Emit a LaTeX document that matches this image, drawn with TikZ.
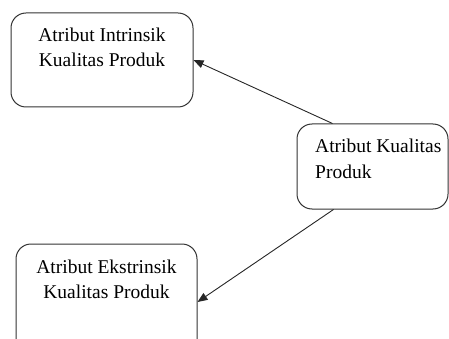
\documentclass[tikz,border=0pt]{standalone}
\usepackage{fontspec}
\setmainfont{Liberation Serif}
\usetikzlibrary{arrows.meta}
\begin{document}
\begin{tikzpicture}[x=1pt,y=-1pt,
  box/.style={draw=black!80, line width=1pt, rounded corners=15pt,
    rectangle, inner sep=0pt},
  txt/.style={font=\fontsize{19.5}{25}\selectfont, inner sep=0pt},
  link/.style={draw=black!85, line width=0.9pt,
    -{Triangle[length=10pt,width=8pt]}}]
  \useasboundingbox (0,0) rectangle (449,339);
  % boxes
  \node[box, minimum width=182pt, minimum height=94pt] (intr) at (102,60) {};
  \node[box, minimum width=151pt, minimum height=85pt] (kp) at (372.5,166.5) {};
  \node[box, minimum width=181pt, minimum height=116pt] (ekst) at (106.5,302) {};
  % labels
  \node[txt, anchor=base] (intrA) at (102,42) {Atribut Intrinsik};
  \node[txt, anchor=base] (intrB) at (102,67) {Kualitas Produk};
  \node[txt, anchor=base west] (kpA) at (315,153) {Atribut Kualitas};
  \node[txt, anchor=base west] (kpB) at (315,178) {Produk};
  \node[txt, anchor=base] (ekstA) at (106.5,273) {Atribut Ekstrinsik};
  \node[txt, anchor=base] (ekstB) at (106.5,298) {Kualitas Produk};
  % connectors
  \draw[link] ([xshift=36pt]kp.north west) -- (intr.east);
  \draw[link] ([xshift=37pt]kp.south west) -- (ekst.east);
\end{tikzpicture}
\end{document}
